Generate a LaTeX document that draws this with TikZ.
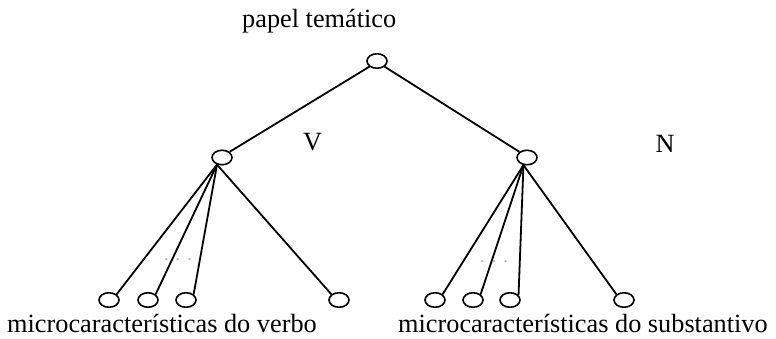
\documentclass[tikz,border=0pt]{standalone}
\usepackage{fontspec}
\setmainfont{Liberation Serif}
\usetikzlibrary{shapes.geometric}
\begin{document}
\begin{tikzpicture}[x=1pt,y=-1pt,
  nd/.style={draw,ellipse,minimum width=20pt,minimum height=14.5pt,inner sep=0pt,line width=1.6pt},
  edge/.style={line width=1.8pt},
  lbl/.style={font=\fontsize{26.3}{30}\selectfont,inner sep=0pt},
  dotsl/.style={font=\fontsize{20}{22}\selectfont,text=gray!55,inner sep=0pt}]
\useasboundingbox (0,0) rectangle (776,338);
\node[nd] (top) at (377,61) {};
\node[nd] (v) at (222,157.5) {};
\node[nd] (n) at (527,157.5) {};
\node[nd] (v1) at (109,300) {};
\node[nd] (v2) at (148,300) {};
\node[nd] (v3) at (186,300) {};
\node[nd] (v4) at (339,300) {};
\node[nd] (n1) at (435,300) {};
\node[nd] (n2) at (473,300) {};
\node[nd] (n3) at (510,300) {};
\node[nd] (n4) at (624,300) {};
\node[lbl,anchor=base west] (tl) at (242,27) {papel temático};
\node[lbl,anchor=base] (vl) at (312.5,150) {V};
\node[lbl,anchor=base] (nl) at (665,152) {N};
\node[lbl,anchor=base west] (bl) at (7,332) {microcaracterísticas do verbo};
\node[lbl,anchor=base west] (br) at (398,332) {microcaracterísticas do substantivo};
\node[dotsl,anchor=base] (dv) at (178,260) {. . .};
\node[dotsl,anchor=base] (dn) at (494,262) {. . .};
\draw[edge] (top.south west) -- (v.north east);
\draw[edge] (top.south east) -- (n.north west);
\coordinate (vc) at (v.235);
\coordinate (nc) at (n.245);
\draw[edge] (vc) -- (v1.north east);
\draw[edge] (vc) -- (v2.north east);
\draw[edge] (vc) -- (v3.north east);
\draw[edge] (vc) -- (v4.north west);
\draw[edge] (nc) -- (n1.north east);
\draw[edge] (nc) -- (n2.north east);
\draw[edge] (nc) -- (n3.30);
\draw[edge] (nc) -- (n4.north west);
\end{tikzpicture}
\end{document}
